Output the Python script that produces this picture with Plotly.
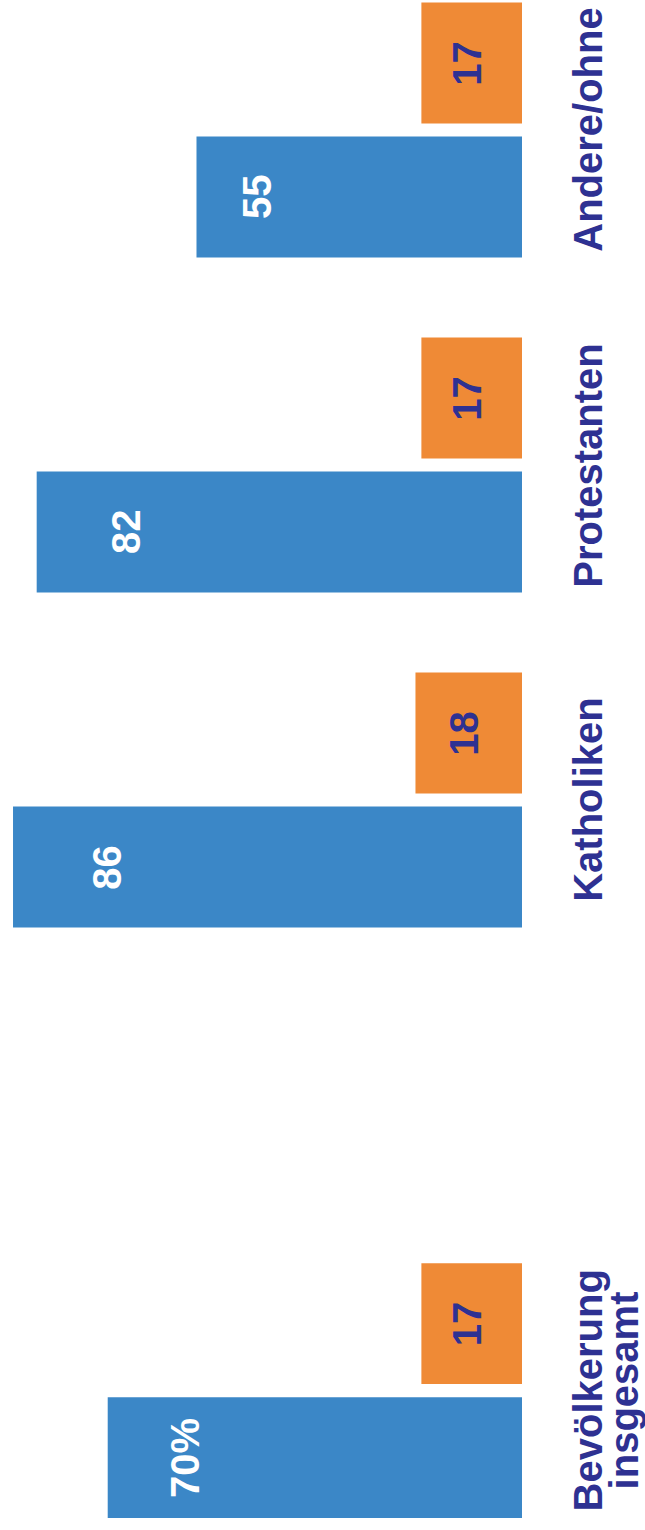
import plotly.graph_objects as go

categories = ["Andere/ohne", "Protestanten", "Katholiken", "Bevölkerung<br>insgesamt"]
blue_values = [55, 82, 86, 70]
orange_values = [17, 17, 18, 17]
blue_labels = ["55", "82", "86", "70%"]
orange_labels = ["17", "17", "18", "17"]
slots = [0, 1, 2, 3.763]

BLUE = "#3b87c7"
ORANGE = "#ef8a36"
NAVY = "#2e3192"
FONT = "Liberation Sans"

fig = go.Figure()
fig.add_trace(go.Bar(y=slots, x=orange_values, orientation="h",
                     marker=dict(color=ORANGE, line=dict(width=0)), hoverinfo="skip"))
fig.add_trace(go.Bar(y=slots, x=blue_values, orientation="h",
                     marker=dict(color=BLUE, line=dict(width=0)), hoverinfo="skip"))

annotations = []
for s, v, lab in zip(slots, blue_values, blue_labels):
    annotations.append(dict(x=v * 0.82, xshift=2, y=s, yshift=-67, xref="x", yref="y",
                            text=lab, textangle=-90, showarrow=False,
                            xanchor="center", yanchor="middle",
                            font=dict(family=FONT, size=40, color="white", weight=700)))
for s, v, lab in zip(slots, orange_values, orange_labels):
    annotations.append(dict(x=v / 2, xshift=-5, y=s, yshift=67, xref="x", yref="y",
                            text=lab, textangle=-90, showarrow=False,
                            xanchor="center", yanchor="middle",
                            font=dict(family=FONT, size=40, color=NAVY, weight=700)))
for s, c in zip(slots, categories):
    for k, line in enumerate(c.split("<br>")):
        annotations.append(dict(x=1.126, xshift=36 * k, y=s, xref="paper", yref="y",
                                text=line, textangle=-90, showarrow=False,
                                xanchor="center", yanchor="middle",
                                font=dict(family=FONT, size=40, color=NAVY, weight=700)))

fig.update_layout(
    width=645, height=1530,
    margin=dict(l=0, r=123, t=0, b=0),
    paper_bgcolor="white", plot_bgcolor="white",
    barmode="group", bargap=0.2, bargroupgap=0.0975,
    showlegend=False,
    xaxis=dict(range=[88.2, 0], visible=False, fixedrange=True),
    yaxis=dict(range=[4.179, -0.388], visible=False, fixedrange=True),
    annotations=annotations,
)

fig.write_html("out.html", config={"displayModeBar": False},
               post_script="document.body.style.margin='0';document.body.style.overflow='hidden';")
